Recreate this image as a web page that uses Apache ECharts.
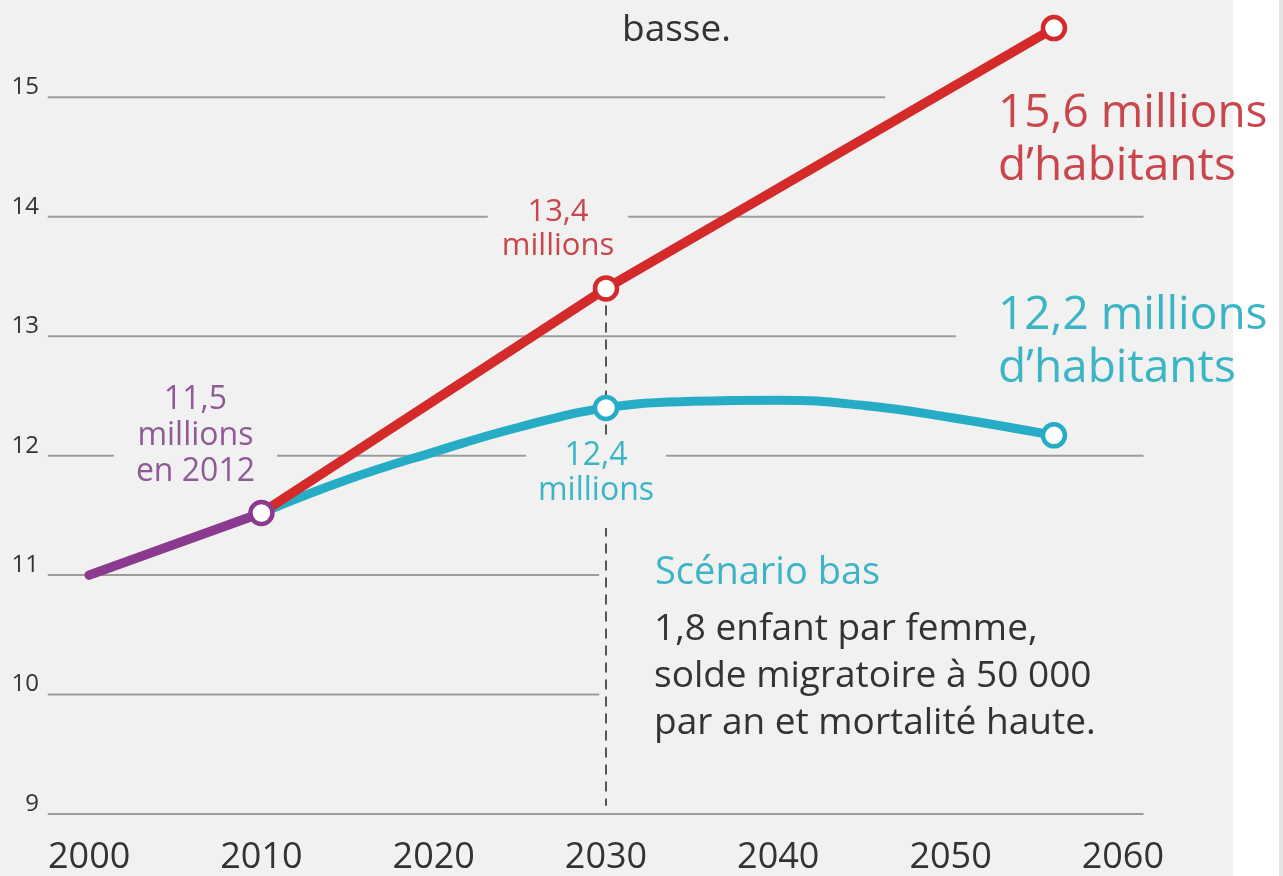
<!DOCTYPE html>
<html><head><meta charset="utf-8">
<script src="https://cdn.jsdelivr.net/npm/echarts@6/dist/echarts.min.js"></script>
<style>html,body{margin:0;padding:0;background:#fff}#c{width:1283px;height:876px}</style>
</head><body><div id="c"></div><script>
// ---- data ----
const xTickLabels = [2000, 2010, 2020, 2030, 2040, 2050, 2060];
const yTickLabels = [9, 10, 11, 12, 13, 14, 15];
const histYears = [2000, 2010];
const histValues = [11.0, 11.52];
const highYears = [2010, 2030, 2056];
const highValues = [11.52, 13.4, 15.58];
const lowYears = [2010, 2015, 2020, 2025, 2030, 2035, 2040, 2045, 2050, 2056];
const lowValues = [11.52, 11.80, 12.03, 12.24, 12.4, 12.455, 12.465, 12.42, 12.32, 12.17];
const gridRows = [15, 14, 13, 12, 11, 10, 9];
const gridRowEnds = [2046.2, 2061.2, 2050.3, 2061.2, 2029.6, 2029.6, 2061.2];
const gridRowStart = 1997.6;
const markYear = 2030;
const labelHigh2030 = '13,4\nmillions';
const labelHighEnd = '15,6 millions\nd\u2019habitants';
const labelLowEnd = '12,2 millions\nd\u2019habitants';
const labelLow2030 = '12,4\nmillions';
const labelHist = '11,5\nmillions\nen 2012';
const lowTitle = 'Sc\u00e9nario bas';
const lowDesc = '1,8 enfant par femme,\nsolde migratoire \u00e0 50 000\npar an et mortalit\u00e9 haute.';
const highDescTail = 'basse.';

const RED = '#d42a2a', CYAN = '#26adc5', PURPLE = '#8b3a8f';
const RED_T = '#c9474c', CYAN_T = '#3bb5c6', PURPLE_T = '#8f5a96';
const FONT = '"Open Sans", "Noto Sans", sans-serif';

const zip = (xs, ys) => xs.map((x, i) => [x, ys[i]]);
const chart = echarts.init(document.getElementById('c'), null, {renderer: 'canvas'});

const series = [];
gridRows.forEach((v, i) => {
  series.push({
    type: 'line', silent: true, z: 0, symbol: 'none', animation: false,
    data: [[gridRowStart, v], [gridRowEnds[i], v]],
    lineStyle: {color: '#9c9c9c', width: 2}
  });
});
const iMid = highYears.indexOf(markYear);
series.push({
  type: 'line', silent: true, z: 0.5, symbol: 'none', animation: false,
  data: [[markYear, highValues[iMid]], [markYear, yTickLabels[0] + 0.07]],
  lineStyle: {color: '#555', width: 2, type: [10, 7]}
});
series.push({type: 'line', z: 2, symbol: 'none', animation: false, data: zip(lowYears, lowValues),
  smooth: 0.45, lineStyle: {color: CYAN, width: 9, cap: 'round'}});
series.push({type: 'line', z: 2, symbol: 'none', animation: false, data: zip(highYears, highValues),
  lineStyle: {color: RED, width: 9.5, cap: 'round'}});
series.push({type: 'line', z: 2, symbol: 'none', animation: false, data: zip(histYears, histValues),
  lineStyle: {color: PURPLE, width: 9.5, cap: 'round'}});
const mk = (pt, col) => ({value: pt, itemStyle: {borderColor: col}});
const lowLast = lowYears.length - 1, highLast = highYears.length - 1;
const iLowMid = lowYears.indexOf(markYear);
series.push({type: 'scatter', z: 3, animation: false, symbolSize: 22,
  itemStyle: {color: '#fff', borderWidth: 4.5, opacity: 1},
  data: [
    mk([highYears[iMid], highValues[iMid]], RED),
    mk([highYears[highLast], highValues[highLast]], RED),
    mk([lowYears[iLowMid], lowValues[iLowMid]], CYAN),
    mk([lowYears[lowLast], lowValues[lowLast]], CYAN),
    mk([histYears[1], histValues[1]], PURPLE)
  ]});

chart.setOption({
  backgroundColor: '#f1f1f1',
  animation: false,
  grid: {left: 3, right: 74, top: 0, bottom: 58, containLabel: false},
  xAxis: {type: 'value', min: 1995, max: 2065, interval: 5,
    axisLine: {show: false}, axisTick: {show: false}, splitLine: {show: false},
    axisLabel: {show: true, margin: 26, color: '#333', fontSize: 36, fontFamily: FONT,
      showMinLabel: true, showMaxLabel: true,
      formatter: v => xTickLabels.includes(v) ? String(v) : ''}},
  yAxis: {type: 'value', min: 9, max: 15.815, interval: 1, offset: -39,
    axisLine: {show: false}, axisTick: {show: false}, splitLine: {show: false},
    axisLabel: {margin: 3, color: '#333', fontSize: 24, fontFamily: FONT, verticalAlign: 'bottom', lineHeight: 20,
      showMaxLabel: false,
      formatter: v => yTickLabels.includes(v) ? String(v) : ''}},
  series: series
});

const px = (x, y) => chart.convertToPixel({gridIndex: 0}, [x, y]);
const pHM = px(highYears[iMid], highValues[iMid]);
const pHE = px(highYears[highLast], highValues[highLast]);
const pLM = px(markYear, lowValues[iLowMid]);
const pLE = px(lowYears[lowLast], lowValues[lowLast]);
const pP = px(histYears[1], histValues[1]);
const BG = '#f1f1f1';
const txt = (text, x, y, color, size, lh, align, bg, pad) => ({
  type: 'text', z: 1, silent: true,
  style: {text, x, y, fill: color, fontSize: size, fontFamily: FONT, lineHeight: lh,
    align: align, verticalAlign: 'top', backgroundColor: bg || 'transparent', padding: pad || 0}
});
chart.setOption({graphic: [
  {type: 'rect', z: 0, silent: true, shape: {x: 1233, y: 0, width: 46, height: 876}, style: {fill: '#ffffff'}},
  {type: 'rect', z: 0, silent: true, shape: {x: 1279, y: 0, width: 4, height: 876}, style: {fill: '#e4e4e4'}},
  txt(highDescTail, 622, 8, '#333', 37, 44, 'left'),
  txt(labelHigh2030, pHM[0] - 48, pHM[1] - 93, RED_T, 31, 34, 'center', BG, [0, 14, 0, 14]),
  txt(labelHighEnd, pHE[0] - 56, pHE[1] + 59, RED_T, 46, 53, 'left'),
  txt(labelLowEnd, pLE[0] - 56, pLE[1] - 146, CYAN_T, 46, 53, 'left'),
  txt(labelHist, pP[0] - 66, pP[1] - 131, PURPLE_T, 32, 36, 'center', BG, [0, 22, 0, 22]),
  txt(labelLow2030, pLM[0] - 10, pLM[1] + 30, CYAN_T, 32, 35, 'center', BG, [0, 12, 20, 12]),
  txt(lowTitle, 655, 550, CYAN_T, 38, 46, 'left'),
  txt(lowDesc, 654, 606, '#333', 37, 47, 'left')
]});
</script></body></html>
